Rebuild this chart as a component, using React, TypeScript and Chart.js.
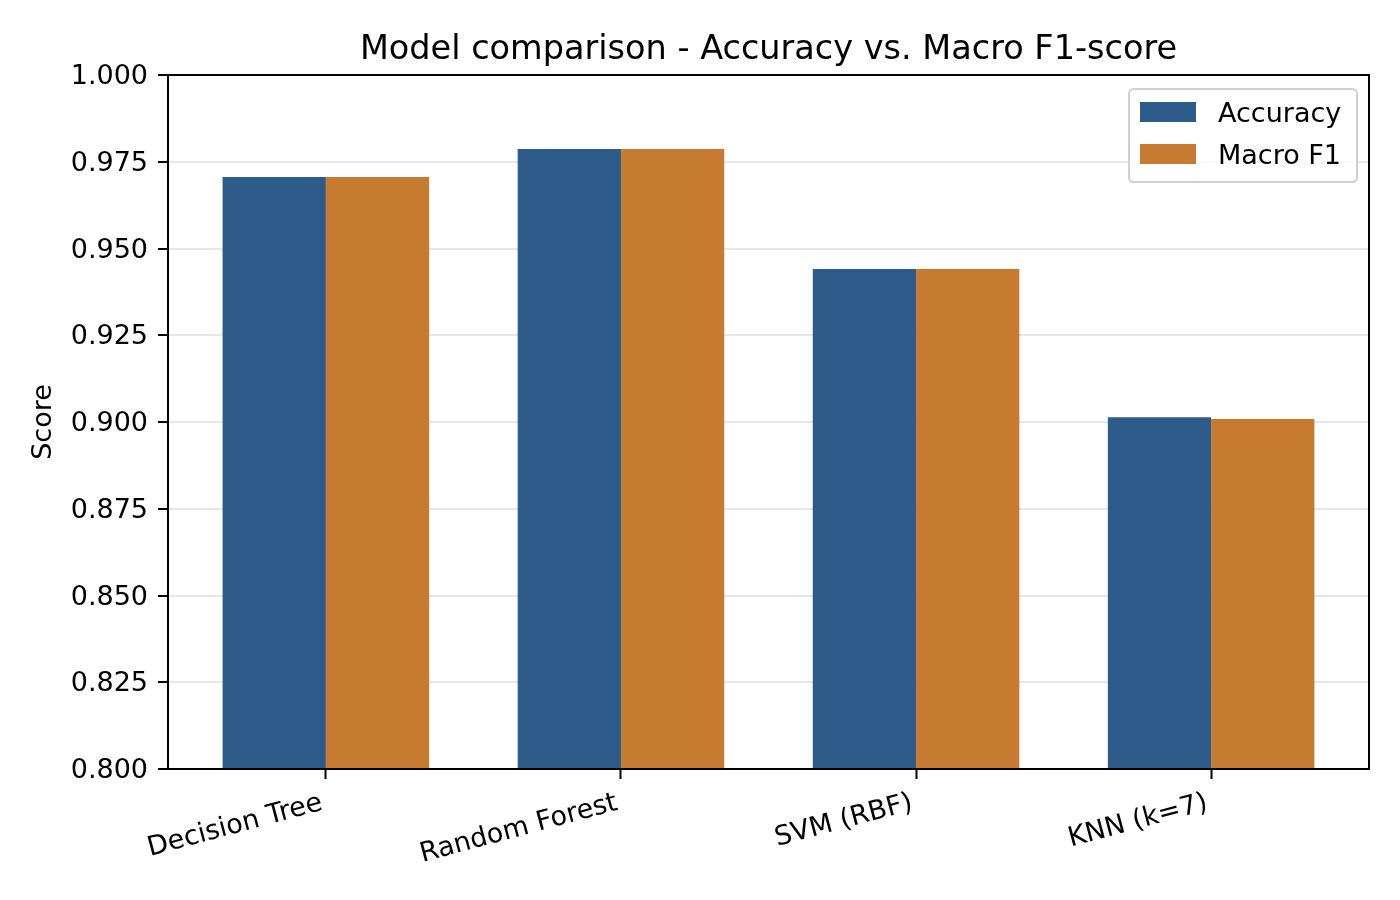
import React, { useEffect, useRef } from "react";
import { Chart, registerables } from "chart.js";

Chart.register(...registerables);

const categories = ["Decision Tree", "Random Forest", "SVM (RBF)", "KNN (k=7)"];
const accuracy = [0.9706, 0.9787, 0.9441, 0.9014];
const macroF1 = [0.9706, 0.9787, 0.9441, 0.9009];
const yTickValues = [0.8, 0.825, 0.85, 0.875, 0.9, 0.925, 0.95, 0.975, 1.0];
const seriesNames = ["Accuracy", "Macro F1"];
const titleText = "Model comparison - Accuracy vs. Macro F1-score";
const yAxisTitle = "Score";

const BLUE = "#2E5C8A";
const ORANGE = "#C67B30";
const FONT = "'DejaVu Sans', sans-serif";

const decorPlugin = {
  id: "decor",
  afterDraw(chart: any) {
    const { ctx, chartArea } = chart;
    const { left, right, top, bottom } = chartArea;
    ctx.save();
    // frame (spines)
    ctx.strokeStyle = "#000";
    ctx.lineWidth = 2;
    ctx.strokeRect(left, top, right - left, bottom - top);
    // title
    ctx.fillStyle = "#000";
    ctx.font = `33.5px ${FONT}`;
    ctx.textAlign = "center";
    ctx.textBaseline = "alphabetic";
    ctx.fillText(titleText, (left + right) / 2, top - 16);
    // legend
    const bx = right - 240;
    const by = top + 14;
    const bw = 228;
    const bh = 93;
    const r = 5;
    ctx.beginPath();
    ctx.moveTo(bx + r, by);
    ctx.lineTo(bx + bw - r, by);
    ctx.quadraticCurveTo(bx + bw, by, bx + bw, by + r);
    ctx.lineTo(bx + bw, by + bh - r);
    ctx.quadraticCurveTo(bx + bw, by + bh, bx + bw - r, by + bh);
    ctx.lineTo(bx + r, by + bh);
    ctx.quadraticCurveTo(bx, by + bh, bx, by + bh - r);
    ctx.lineTo(bx, by + r);
    ctx.quadraticCurveTo(bx, by, bx + r, by);
    ctx.closePath();
    ctx.fillStyle = "rgba(255,255,255,0.8)";
    ctx.fill();
    ctx.strokeStyle = "#d0d0d0";
    ctx.lineWidth = 2;
    ctx.stroke();
    chart.data.datasets.forEach((ds: any, i: number) => {
      const cy = by + 23 + i * 42;
      ctx.fillStyle = ds.backgroundColor;
      ctx.fillRect(bx + 11, cy - 10, 56, 20);
      ctx.fillStyle = "#000";
      ctx.font = `27px ${FONT}`;
      ctx.textAlign = "left";
      ctx.textBaseline = "middle";
      ctx.fillText(ds.label, bx + 89, cy + 3);
    });
    ctx.restore();
  },
};

export default function App() {
  const ref = useRef<HTMLCanvasElement | null>(null);

  useEffect(() => {
    if (!ref.current) return;
    const chart = new Chart(ref.current, {
      type: "bar",
      data: {
        datasets: [
          {
            label: seriesNames[0],
            data: accuracy.map((v, i) => ({ x: i, y: v })),
            backgroundColor: BLUE,
            borderWidth: 0,
          },
          {
            label: seriesNames[1],
            data: macroF1.map((v, i) => ({ x: i, y: v })),
            backgroundColor: ORANGE,
            borderWidth: 0,
          },
        ],
      },
      options: {
        animation: false,
        responsive: false,
        devicePixelRatio: 1,
        layout: { padding: { top: 75, right: 31, left: 0, bottom: 0 } },
        categoryPercentage: 0.7,
        barPercentage: 1.0,
        plugins: {
          legend: { display: false },
          title: { display: false },
          tooltip: { enabled: false },
        },
        scales: {
          x: {
            type: "linear",
            min: -0.535,
            max: 3.535,
            offset: false,
            afterBuildTicks: (scale: any) => {
              scale.ticks = categories.map((_, i) => ({ value: i }));
            },
            afterFit: (scale: any) => {
              scale.height = 131;
            },
            ticks: {
              autoSkip: false,
              minRotation: 15,
              maxRotation: 15,
              padding: 8,
              labelOffset: -4,
              color: "#000",
              font: { family: FONT, size: 27 },
              callback: (v: any) => categories[Math.round(Number(v))] ?? "",
            },
            grid: {
              display: true,
              offset: false,
              drawOnChartArea: false,
              drawTicks: true,
              tickLength: 10,
              tickColor: "#000",
              tickWidth: 2,
            },
            border: { display: false },
          },
          y: {
            min: 0.8,
            max: 1.0,
            z: 1,
            afterBuildTicks: (scale: any) => {
              scale.ticks = yTickValues.map((v) => ({ value: v }));
            },
            afterFit: (scale: any) => {
              scale.width = 168;
            },
            ticks: {
              padding: 10,
              labelOffset: 2,
              color: "#000",
              font: { family: FONT, size: 27 },
              callback: (v: any) => Number(v).toFixed(3),
            },
            grid: {
              color: "rgba(176,176,176,0.3)",
              lineWidth: 2,
              tickLength: 10,
              tickColor: "#000",
              tickWidth: 2,
            },
            border: { display: false },
            title: {
              display: true,
              text: yAxisTitle,
              color: "#000",
              font: { family: FONT, size: 27 },
              padding: { top: 28, bottom: 0 },
            },
          },
        },
      } as any,
      plugins: [decorPlugin],
    });
    return () => chart.destroy();
  }, []);

  return (
    <div style={{ position: "fixed", left: 0, top: 0, width: 1400, height: 900, background: "#fff" }}>
      <canvas ref={ref} width={1400} height={900} style={{ width: 1400, height: 900, display: "block" }} />
    </div>
  );
}
